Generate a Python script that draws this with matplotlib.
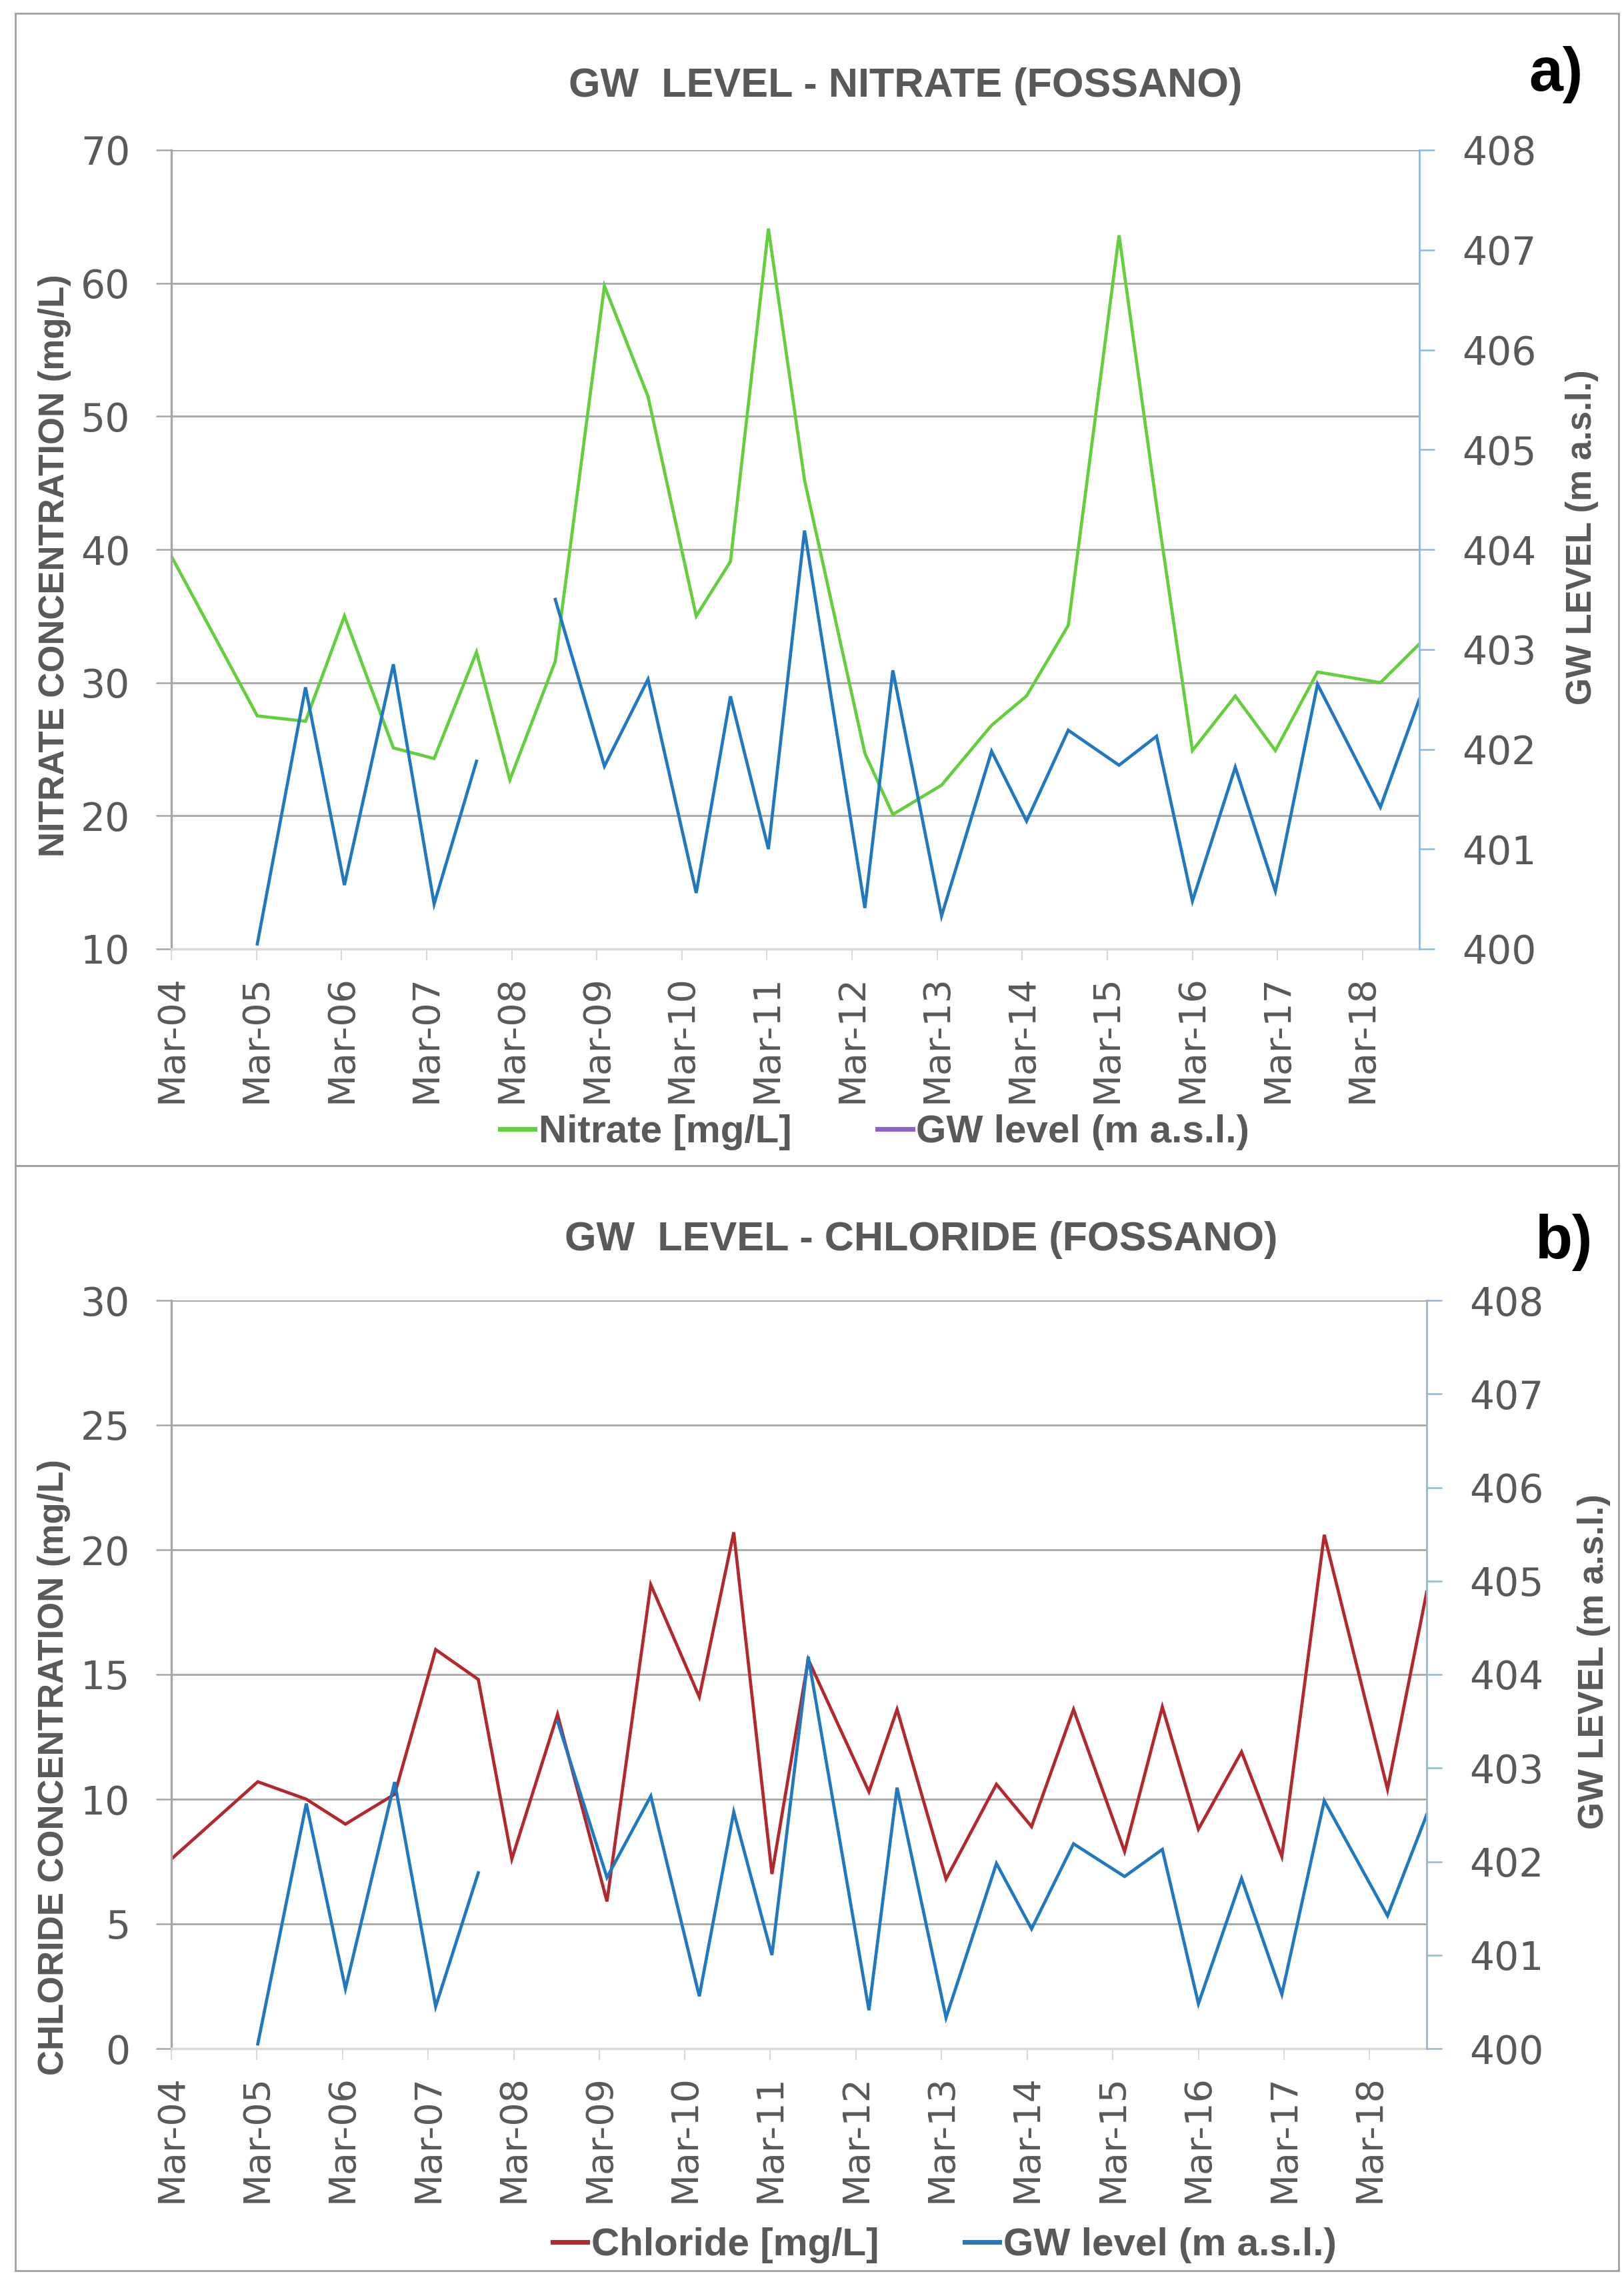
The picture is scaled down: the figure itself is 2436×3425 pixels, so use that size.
import numpy as np
import pandas as pd
import matplotlib
matplotlib.use("Agg")
import matplotlib.pyplot as plt
import matplotlib.dates as mdates
from matplotlib.lines import Line2D
from matplotlib.patches import Rectangle

# sampling dates
dates = pd.to_datetime([
    '2004-03-01', '2005-03-05', '2005-09-28', '2006-03-14', '2006-10-10',
    '2007-04-03', '2007-10-02', '2008-02-22', '2008-09-04', '2009-04-03',
    '2009-10-07', '2010-05-02', '2010-09-26', '2011-03-08', '2011-08-10',
    '2012-04-25', '2012-08-23', '2013-03-20', '2013-10-21', '2014-03-20',
    '2014-09-15', '2015-04-21', '2015-09-29', '2016-03-01', '2016-09-01',
    '2017-02-20', '2017-08-20', '2018-05-17', '2018-10-31'])

nitrate = [39.5, 27.5, 27.1, 35.0, 25.1, 24.3, 32.3, 22.7, 31.6, 59.8,
           51.5, 35.0, 39.1, 64.1, 45.2, 24.7, 20.1, 22.3, 26.8, 29.0,
           34.3, 63.6, 43.3, 24.9, 29.0, 24.9, 30.8, 30.0, 32.9]

chloride = [7.6, 10.7, 10.0, 9.0, 10.2, 16.0, 14.8, 7.6, 13.4, 5.9,
            18.6, 14.1, 20.7, 7.0, 15.6, 10.3, 13.6, 6.8, 10.6, 8.9,
            13.6, 7.9, 13.7, 8.8, 11.9, 7.7, 20.6, 10.4, 18.3]

gw_level = [np.nan, 400.05, 402.62, 400.64, 402.85, 400.45, 401.88, np.nan,
            403.50, 401.83, 402.70, 400.56, 402.53, 401.00, 404.19, 400.41,
            402.79, 400.33, 401.98, 401.28, 402.19, 401.84, 402.13, 400.48,
            401.82, 400.58, 402.65, 401.42, 402.50]

GREEN = '#63CF3C'
BLUE = '#2079C0'
RED = '#B3282D'
PURPLE = '#8C62C4'
TXT = '#595959'
GRID = '#A6A6A6'
LAB = ['Liberation Sans', 'DejaVu Sans']

W, H = 2436, 3425
fig = plt.figure(figsize=(W / 100, H / 100), dpi=100)


def fx(px):
    return px / W


def fy(py):
    return 1 - py / H


# panel frames
for top, bot in ((20, 1748), (1748, 3405)):
    fig.patches.append(Rectangle((fx(23), fy(bot)), fx(2428) - fx(23), fy(top) - fy(bot),
                                 transform=fig.transFigure, fill=False,
                                 edgecolor='#A0A0A0', lw=2))


def make_panel(rect, conc, conc_color, ylim, yticks, ylabel, llab, rlab):
    ax = fig.add_axes(rect)
    ax2 = ax.twinx()
    ax.plot(dates, conc, color=conc_color, lw=3.4, solid_joinstyle='miter')
    ax2.plot(dates, gw_level, color=BLUE, lw=3.4, solid_joinstyle='miter')

    ax.set_xlim(dates[0], dates[-1])
    ax.set_ylim(*ylim)
    ax.set_yticks(yticks)
    ax2.set_ylim(400, 408)
    ax2.set_yticks(range(400, 409))

    ax.xaxis.set_major_locator(mdates.MonthLocator(bymonth=3))
    ax.xaxis.set_major_formatter(mdates.DateFormatter('%b-%y'))

    ax.yaxis.grid(True, color=GRID, lw=2.0)
    ax.set_axisbelow(True)

    for s in ('top', 'right'):
        ax.spines[s].set_visible(False)
    ax.spines['left'].set_color(GRID)
    ax.spines['left'].set_linewidth(2.4)
    ax.spines['bottom'].set_color('#D9D9D9')
    ax.spines['bottom'].set_linewidth(2.5)
    for s in ('top', 'left', 'bottom'):
        ax2.spines[s].set_visible(False)
    ax2.spines['right'].set_color('#8DB8E2')
    ax2.spines['right'].set_linewidth(2.0)

    ax.tick_params(axis='y', length=16.5, width=1.8, color=GRID, pad=28,
                   labelsize=42, labelcolor=TXT)
    ax.tick_params(axis='x', length=12, width=1.5, color='#D9D9D9', pad=16,
                   labelsize=40, labelcolor=TXT, labelrotation=90)
    ax2.tick_params(axis='y', length=16.5, width=1.8, color='#8DB8E2', pad=30,
                    labelsize=42, labelcolor=TXT)

    ax.set_ylabel(ylabel, family=LAB, fontweight='bold', fontsize=38, color=TXT)
    ax.yaxis.set_label_coords(*llab)
    ax2.set_ylabel('GW LEVEL (m a.s.l.)', family=LAB, fontweight='bold',
                   fontsize=38, color=TXT, rotation=90)
    ax2.yaxis.set_label_coords(*rlab)
    return ax, ax2


make_panel([fx(257), fy(1423), fx(2129) - fx(257), fy(225) - fy(1423)],
           nitrate, GREEN, (10, 70), range(10, 71, 10),
           'NITRATE CONCENTRATION (mg/L)', (-0.080, 0.48), (1.117, 0.515))
make_panel([fx(257), fy(3072), fx(2140) - fx(257), fy(1950) - fy(3072)],
           chloride, RED, (0, 30), range(0, 31, 5),
           'CHLORIDE CONCENTRATION (mg/L)', (-0.080, 0.376), (1.12, 0.517))

# titles and panel letters
fig.text(fx(1358), fy(130), 'GW  LEVEL - NITRATE (FOSSANO)', family=LAB,
         fontweight='bold', fontsize=44, color=TXT, ha='center', va='center')
fig.text(fx(1382), fy(1860), 'GW  LEVEL - CHLORIDE (FOSSANO)', family=LAB,
         fontweight='bold', fontsize=44, color=TXT, ha='center', va='center')
fig.text(fx(2334), fy(112), 'a)', family=LAB,
         fontweight='bold', fontsize=66, color='black', ha='center', va='center')
fig.text(fx(2346), fy(1863), 'b)', family=LAB,
         fontweight='bold', fontsize=66, color='black', ha='center', va='center')

# legends
leg_font = {'family': LAB, 'weight': 'bold', 'size': 42}
h1 = [Line2D([], [], color=GREEN, lw=5), Line2D([], [], color=PURPLE, lw=5)]
fig.legend(h1, ['Nitrate [mg/L]', 'GW level (m a.s.l.)'], loc='center',
           bbox_to_anchor=(fx(1312), fy(1698)), ncol=2, frameon=False,
           prop=leg_font, handlelength=0.9, handletextpad=0.1,
           columnspacing=2.2, labelcolor=TXT)
h2 = [Line2D([], [], color=RED, lw=5), Line2D([], [], color=BLUE, lw=5)]
fig.legend(h2, ['Chloride [mg/L]', 'GW level (m a.s.l.)'], loc='center',
           bbox_to_anchor=(fx(1417), fy(3367)), ncol=2, frameon=False,
           prop=leg_font, handlelength=0.9, handletextpad=0.1,
           columnspacing=2.2, labelcolor=TXT)

fig.savefig('out.png', dpi=100, facecolor='white')
